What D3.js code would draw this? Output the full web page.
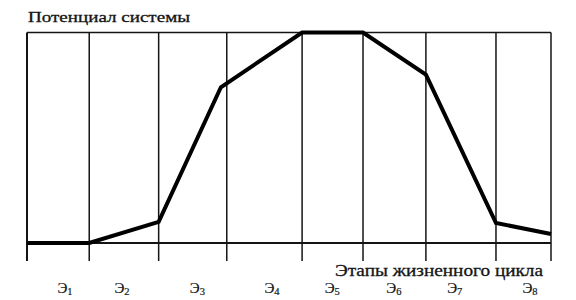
<!DOCTYPE html>
<html><head><meta charset="utf-8">
<script src="https://cdn.jsdelivr.net/npm/d3@7"></script>
<style>body{margin:0;background:#fff}svg{display:block}</style>
</head><body>
<svg id="c" width="576" height="300"></svg>
<script>
// Data
const stageNames = ["1","2","3","4","5","6","7","8"];          // subscripts for Э
const stageEdges = [0, 0.95, 2.01, 3.05, 4.2, 5.13, 6.09, 7.16, 8]; // boundaries in stage units
const stageLabelPos = [0.58, 1.45, 2.6, 3.74, 4.66, 5.6, 6.53, 7.68];
const curveX = [0, 0.95, 2.01, 2.96, 4.2, 5.13, 6.09, 7.16, 8];
const curveY = [0, 0, 1.0, 7.4, 10, 10, 8.0, 0.95, 0.43];
const yTitle = "Потенциал системы";
const xTitle = "Этапы жизненного цикла";

const svg = d3.select("#c");
const x = d3.scaleLinear().domain([0, 8]).range([27, 551]);
const y = d3.scaleLinear().domain([0, 10]).range([243, 32.5]);
const ink = "#141414";
const font = "\"Liberation Serif\", \"DejaVu Serif\", serif";

// frame top line
svg.append("line").attr("x1", x(0)).attr("x2", x(8)).attr("y1", y(10)).attr("y2", y(10))
  .attr("stroke", ink).attr("stroke-width", 1.6);
// baseline
svg.append("line").attr("x1", x(0)).attr("x2", x(8)).attr("y1", y(0)).attr("y2", y(0))
  .attr("stroke", ink).attr("stroke-width", 1.8);
// vertical stage lines
svg.selectAll("line.v").data(stageEdges).enter().append("line").attr("class", "v")
  .attr("x1", d => x(d)).attr("x2", d => x(d))
  .attr("y1", y(10)).attr("y2", 261)
  .attr("stroke", ink).attr("stroke-width", (d, i) => i === 0 ? 2 : 1.5);

// curve
const pts = curveX.map((v, i) => [v, curveY[i]]);
svg.append("path").datum(pts)
  .attr("d", d3.line().x(d => x(d[0])).y(d => y(d[1])))
  .attr("fill", "none").attr("stroke", "#000").attr("stroke-width", 4)
  .attr("stroke-linejoin", "miter");

// titles
svg.append("text").attr("x", 28).attr("y", 22).text(yTitle)
  .style("font-family", font).attr("font-size", 15).attr("fill", ink)
  .attr("stroke", ink).attr("stroke-width", 0.3)
  .attr("textLength", 162).attr("lengthAdjust", "spacingAndGlyphs");
svg.append("text").attr("x", 335).attr("y", 276).text(xTitle)
  .style("font-family", font).attr("font-size", 16).attr("fill", ink)
  .attr("stroke", ink).attr("stroke-width", 0.3)
  .attr("textLength", 208).attr("lengthAdjust", "spacingAndGlyphs");

// stage labels
const lbl = svg.selectAll("text.s").data(stageNames).enter().append("text").attr("class", "s")
  .attr("x", (d, i) => x(stageLabelPos[i])).attr("y", 293)
  .attr("text-anchor", "middle").style("font-family", font).attr("font-size", 15).attr("fill", ink)
  .attr("stroke", ink).attr("stroke-width", 0.2);
lbl.append("tspan").text("Э");
lbl.append("tspan").text(d => d).attr("font-size", 10.5).attr("dy", 2);
</script>
</body></html>
